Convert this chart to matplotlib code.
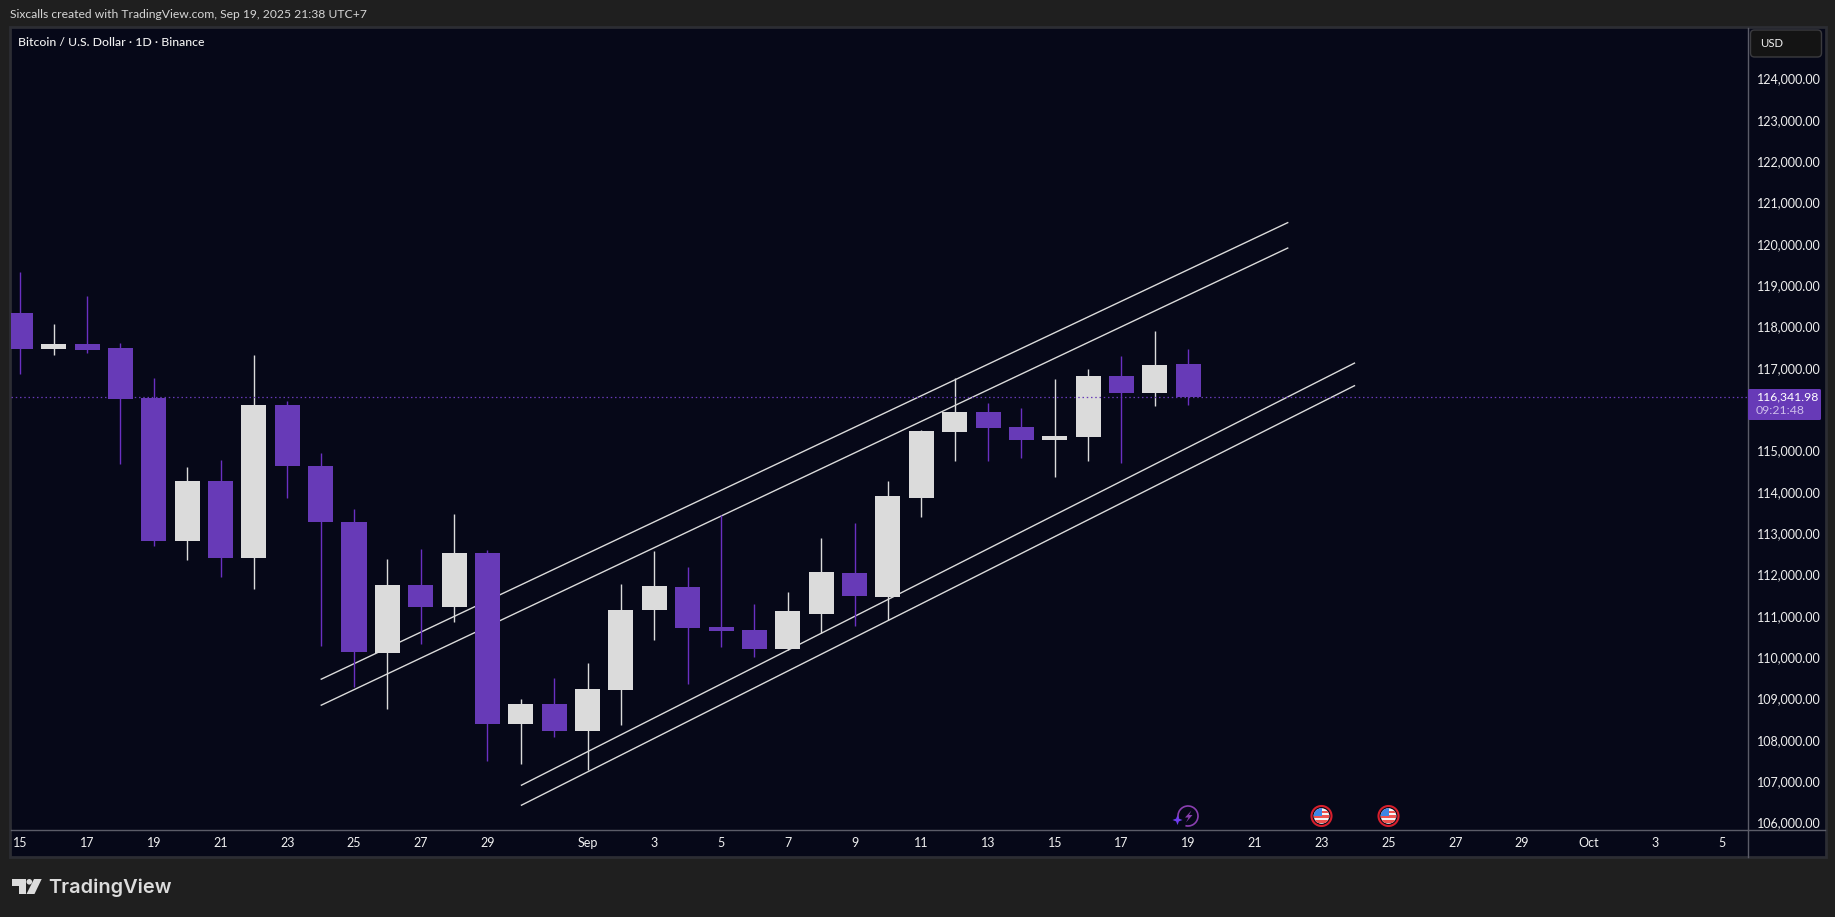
import numpy as np
import pandas as pd
import matplotlib
matplotlib.use("Agg")
import matplotlib.pyplot as plt
import matplotlib.dates as mdates
from matplotlib.patches import Rectangle, Circle, Polygon, FancyBboxPatch, Arc
from matplotlib.transforms import ScaledTranslation

# ---- data ----
start_date = "2025-08-15"
opens = [118383, 117512, 117633, 117536, 116325, 112863, 114316, 112452, 116156, 114679,
         113323, 110152, 111798, 111266, 112573, 108433, 108917, 108263, 109256, 111193,
         111750, 110781, 110709, 110249, 111096, 112089, 111508, 113904, 115502, 115986,
         115623, 115309, 115381, 116858, 116446, 117149]
highs = [119376, 118117, 118795, 117657, 116810, 114655, 114824, 117366, 116253, 114994,
         113638, 112428, 112670, 113517, 112645, 109038, 109547, 109910, 111822, 112621,
         112234, 113493, 111338, 111629, 112936, 113299, 114316, 115551, 116810, 116204,
         116083, 116785, 117028, 117342, 117947, 117512]
lows = [116906, 117366, 117415, 114728, 112742, 112403, 111992, 111701, 113904, 110321,
        109329, 108796, 110370, 110902, 107537, 107465, 108118, 107319, 108409, 110467,
        109401, 110297, 110055, 110224, 110636, 110806, 110951, 113444, 114800, 114800,
        114873, 114413, 114800, 114752, 116132, 116156]
closes = [117512, 117633, 117487, 116301, 112863, 114316, 112452, 116156, 114679, 113323,
          110176, 111798, 111266, 112573, 108433, 108917, 108263, 109280, 111193, 111774,
          110757, 110684, 110249, 111169, 112113, 111532, 113953, 115526, 115986, 115599,
          115309, 115405, 116858, 116446, 117124, 116342]

last_price = 116341.98
price_ticks = [p * 1000 for p in (106, 107, 108, 109, 110, 111, 112, 113, 114, 115, 117,
                                  118, 119, 120, 121, 122, 123, 124)]
time_tick_dates = ["2025-08-15", "2025-08-17", "2025-08-19", "2025-08-21", "2025-08-23",
                   "2025-08-25", "2025-08-27", "2025-08-29", "2025-09-01", "2025-09-03",
                   "2025-09-05", "2025-09-07", "2025-09-09", "2025-09-11", "2025-09-13",
                   "2025-09-15", "2025-09-17", "2025-09-19", "2025-09-21", "2025-09-23",
                   "2025-09-25", "2025-09-27", "2025-09-29", "2025-10-01", "2025-10-03",
                   "2025-10-05"]
time_tick_labels = ["15", "17", "19", "21", "23", "25", "27", "29", "Sep", "3", "5", "7", "9",
                    "11", "13", "15", "17", "19", "21", "23", "25", "27", "29", "Oct", "3", "5"]

# channel lines: (start date, start price, end date, end price)
channels = [("2025-08-24", 109515, "2025-09-22", 120579),
            ("2025-08-24", 108886, "2025-09-22", 119964),
            ("2025-08-30", 106949, "2025-09-24", 117180),
            ("2025-08-30", 106465, "2025-09-24", 116633)]

# ---- style ----
W, H = 1835, 917
FONT = "Lato"
PAGE = "#1f1f1f"
BG = "#060818"
FRAME = "#2c2d33"
AXIS = "#5b5c68"
UP = "#dbdbdb"
DOWN = "#673ab7"
DOWN_WICK = "#6a30c2"
TXT = "#f0f0f0"
plt.rcParams["font.family"] = [FONT, "DejaVu Sans"]

fig = plt.figure(figsize=(W / 100, H / 100), dpi=100, facecolor=PAGE)

def rect(l, t, r, b):
    return [l / W, 1 - b / H, (r - l) / W, (b - t) / H]

# panel behind everything
bg = fig.add_axes(rect(0, 0, W, H), zorder=0)
bg.set_xlim(0, W); bg.set_ylim(H, 0); bg.axis("off")
bg.add_patch(Rectangle((10, 26.5), 1815.5, 830.5, fc=BG, ec=FRAME, lw=2))

# main chart
ax = fig.add_axes(rect(11, 27.5, 1747.5, 829.5), zorder=1)
ax.set_facecolor("none")
dates = pd.date_range(start_date, periods=len(opens), freq="D")
x = mdates.date2num(dates)
x0 = x[0]
ax.set_xlim(x0 - 0.279, x0 + 51.76)
ax.set_ylim(105884, 125295)

for (d0, p0, d1, p1) in channels:
    ax.plot(mdates.date2num(pd.to_datetime([d0, d1])), [p0, p1], color=UP, lw=1.0,
            solid_capstyle="butt", zorder=2)

colors = [UP if c >= o else DOWN for o, c in zip(opens, closes)]
wicks = [UP if c >= o else DOWN_WICK for o, c in zip(opens, closes)]
ax.vlines(x, lows, highs, colors=wicks, lw=1.0, zorder=3)
ax.bar(x, np.abs(np.array(closes) - np.array(opens)), bottom=np.minimum(opens, closes),
       width=0.75, color=colors, linewidth=0, zorder=4)
ax.axhline(last_price, color=DOWN, lw=0.9, linestyle=(0, (1.2, 2.2)), zorder=5)

for s in ("top", "left", "bottom"):
    ax.spines[s].set_visible(False)
ax.spines["right"].set_color(AXIS)
ax.spines["right"].set_linewidth(1)
ax.yaxis.tick_right()
ax.set_yticks(price_ticks)
ax.set_yticklabels([f"{p:,.2f}" for p in price_ticks])
ax.tick_params(axis="y", length=0, pad=6.5, labelsize=9, labelcolor=TXT)
ax.set_xticks(mdates.date2num(pd.to_datetime(time_tick_dates)))
ax.set_xticklabels(time_tick_labels)
ax.tick_params(axis="x", length=0, pad=5.5, labelsize=9, labelcolor=TXT)

# the price labels sit a little above their gridline position
shift = ScaledTranslation(0, 2.4 / 100, fig.dpi_scale_trans)
for lab in ax.get_yticklabels():
    lab.set_transform(lab.get_transform() + shift)

# overlay in pixel coordinates for the chrome
ov = fig.add_axes(rect(0, 0, W, H), zorder=2)
ov.set_xlim(0, W); ov.set_ylim(H, 0); ov.axis("off"); ov.patch.set_alpha(0)

ov.plot([11, 1825], [829.5, 829.5], color=AXIS, lw=1)
ov.plot([1747.5, 1747.5], [829.5, 857], color=AXIS, lw=1)

ov.text(10, 15, "Sixcalls created with TradingView.com, Sep 19, 2025 21:38 UTC+7",
        color="#d6d6d6", fontsize=8.7, va="center", ha="left")
ov.text(18, 42, "Bitcoin / U.S. Dollar · 1D · Binance", color="#f2f2f2", fontsize=8.87,
        va="center", ha="left", fontweight="medium")

# USD box
ov.add_patch(FancyBboxPatch((1753.5, 33), 65, 21, boxstyle="round,pad=3,rounding_size=4",
                            fc="#141414", ec="#3b3b3f", lw=1))
ov.text(1760, 43.5, "USD", color=TXT, fontsize=8.2, va="center", ha="left")

# last price tag
ov.add_patch(FancyBboxPatch((1748, 389), 73, 31, boxstyle="round,pad=0,rounding_size=1.5",
                            fc=DOWN, ec="none"))
ov.text(1756, 397, f"{last_price:,.2f}", color="#ffffff", fontsize=8.8, va="center", ha="left")
ov.text(1756, 411, "09:21:48", color="#cdbdea", fontsize=8.8, va="center", ha="left")

# US-flag event marks
for cx in (1321.5, 1388.5):
    cy = 816
    clip = Circle((cx, cy), 7.8, transform=ov.transData)
    ov.add_patch(Circle((cx, cy), 7.8, fc="#f4f4f4", ec="none"))
    for sy in (-4.0, 0.8, 5.6):
        st = ov.add_patch(Rectangle((cx - 9, cy + sy - 1.4), 18, 2.8,
                                    fc="#ef5350", ec="none"))
        st.set_clip_path(clip)
    can = ov.add_patch(Rectangle((cx - 9, cy - 9), 9.5, 9, fc="#3d86e6", ec="none"))
    can.set_clip_path(clip)
    ov.add_patch(Circle((cx, cy), 10, fc="none", ec="#d81f2c", lw=1.5))

# lightning event mark
ov.add_patch(Arc((1188, 816), 20, 20, theta1=165, theta2=465, ec="#8a3fb0", lw=1.2))
ov.add_patch(Polygon([(1191.5, 810.5), (1185, 817.5), (1188.5, 817.5), (1186, 822.5), (1192.5, 815),
                      (1189, 815)], closed=True, fc="#8a3fb0", ec="none"))
ov.add_patch(Polygon([(1177.5, 815), (1178.9, 818.6), (1182.5, 820), (1178.9, 821.4), (1177.5, 825),
                      (1176.1, 821.4), (1172.5, 820), (1176.1, 818.6)], closed=True,
                     fc="#6e3cf0", ec="none"))

# TradingView logo
LOGO = "#dcdcdc"
ov.add_patch(Polygon([(12, 879), (25.5, 879), (25.5, 894), (18.5, 894), (18.5, 886), (12, 886)],
                     closed=True, fc=LOGO, ec="none"))
ov.add_patch(Circle((29.3, 881.8), 2.8, fc=LOGO, ec="none"))
ov.add_patch(Polygon([(34, 879), (41.7, 879), (34.5, 894), (26.5, 894)], closed=True,
                     fc=LOGO, ec="none"))
ov.text(48.5, 887.5, "TradingView", color=LOGO, fontsize=14.4, fontweight="semibold",
        family=["Inter", "DejaVu Sans"], va="center", ha="left")

fig.savefig("out.png", dpi=100, facecolor=PAGE)
